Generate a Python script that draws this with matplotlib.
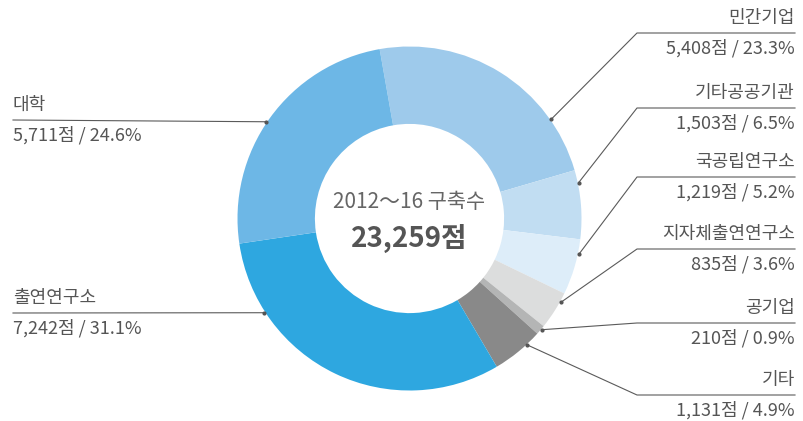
import numpy as np
import matplotlib.pyplot as plt

plt.rcParams['font.family'] = ['Noto Sans CJK KR', 'DejaVu Sans']

# data, clockwise from the top
labels = ['민간기업', '기타공공기관', '국공립연구소', '지자체출연연구소', '공기업', '기타', '출연연구소', '대학']
counts = [5408, 1503, 1219, 835, 210, 1131, 7242, 5711]
colors = ['#9ecaeb', '#c1ddf2', '#ddedf9', '#dcdddd', '#b4b5b5', '#898989', '#2ea7e0', '#6db7e6']
total_label = '2012～16 구축수'

# layout: angle of the leader dot on the ring, label line height (px from top), side
anchor_deg = [35, 12, -12, -29, -40, -47, 213, 146]
line_y = [33, 108, 177, 249, 323, 395, 313, 120]
side = ['r', 'r', 'r', 'r', 'r', 'r', 'l', 'l']

W, H = 804, 421
cx, cy, R = 409.5, H - 218.5, 172

fig = plt.figure(figsize=(W / 100, H / 100), dpi=100)
ax = fig.add_axes([0, 0, 1, 1])
ax.axis('off')

ax.pie(counts, colors=colors, startangle=100, counterclock=False,
       center=(cx, cy), radius=R,
       wedgeprops=dict(width=R * 0.45, linewidth=0))
ax.set_xlim(0, W)
ax.set_ylim(0, H)
ax.set_aspect('equal')

total = sum(counts)
ax.text(cx, H - 202, total_label, ha='center', va='center', fontsize=15, color='#666666')
ax.text(cx, H - 238, f'{total:,}점', ha='center', va='center', fontsize=20,
        fontweight='bold', color='#555555')

line_col = '#5a5a5a'
txt_col = '#555555'
for name, n, a, ly, s in zip(labels, counts, anchor_deg, line_y, side):
    t = np.deg2rad(a)
    px, py = cx + (R + 1) * np.cos(t), cy + (R + 1) * np.sin(t)
    y = H - ly
    pct = f'{n:,}점 / {n / total * 100:.1f}%'
    if s == 'r':
        x0, x1 = 637, 795
        ax.plot([px, x0, x1], [py, y, y], color=line_col, lw=0.8)
        ax.text(x1, y + 15, name, ha='right', va='center', fontsize=13, color=txt_col)
        ax.text(x1, y - 15, pct, ha='right', va='center', fontsize=13, color=txt_col)
    else:
        x0 = 13
        ax.plot([x0, px], [y, py], color=line_col, lw=0.8)
        ax.text(x0, y + 15, name, ha='left', va='center', fontsize=13, color=txt_col)
        ax.text(x0, y - 15, pct, ha='left', va='center', fontsize=13, color=txt_col)
    ax.plot(px, py, 'o', color='#555555', ms=2)

fig.savefig('out.png', dpi=100)
